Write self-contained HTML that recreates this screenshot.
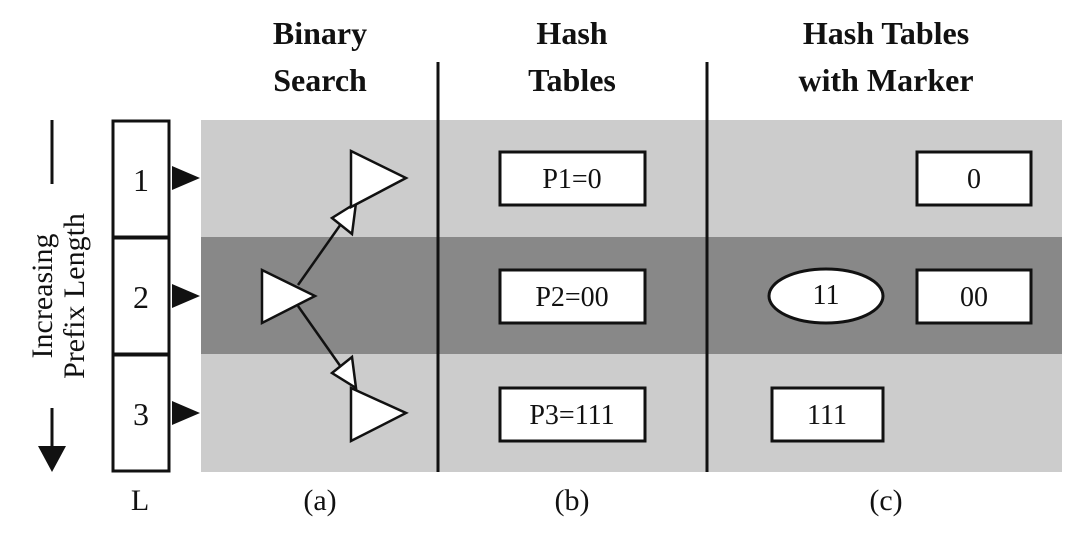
<!DOCTYPE html>
<html><head><style>body{margin:0;background:#fff}</style></head><body>
<svg width="1080" height="532" viewBox="0 0 1080 532" xmlns="http://www.w3.org/2000/svg" font-family="Liberation Serif, serif">
<rect x="201" y="120" width="861" height="352" fill="#cccccc"/>
<rect x="201" y="237" width="861" height="117" fill="#888888"/>
<line x1="438" y1="62" x2="438" y2="472" stroke="#111" stroke-width="3"/>
<line x1="707" y1="62" x2="707" y2="472" stroke="#111" stroke-width="3"/>
<g font-weight="bold" font-size="32" text-anchor="middle" fill="#111">
<text x="320" y="44">Binary</text><text x="320" y="91">Search</text>
<text x="572" y="44">Hash</text><text x="572" y="91">Tables</text>
<text x="886" y="44">Hash Tables</text><text x="886" y="91">with Marker</text>
</g>
<g font-size="30" text-anchor="middle" fill="#111">
<text x="140" y="510">L</text><text x="320" y="510">(a)</text><text x="572" y="510">(b)</text><text x="886" y="510">(c)</text>
</g>
<g fill="#fff" stroke="#111" stroke-width="3">
<rect x="113" y="121" width="56" height="116"/>
<rect x="113" y="238" width="56" height="116"/>
<rect x="113" y="355" width="56" height="116"/>
</g>
<g font-size="32" text-anchor="middle" fill="#111">
<text x="141" y="191">1</text><text x="141" y="308">2</text><text x="141" y="425">3</text>
</g>
<g fill="#111">
<polygon points="172,166 200,178 172,190"/>
<polygon points="172,284 200,296 172,308"/>
<polygon points="172,401 200,413 172,425"/>
</g>
<line x1="52" y1="120" x2="52" y2="184" stroke="#111" stroke-width="3"/>
<line x1="52" y1="408" x2="52" y2="450" stroke="#111" stroke-width="3"/>
<polygon points="38,446 66,446 52,472" fill="#111"/>
<g font-size="30" text-anchor="middle" fill="#111" transform="translate(52,296) rotate(-90)">
<text x="0" y="0">Increasing</text><text x="0" y="32">Prefix Length</text>
</g>
<g stroke="#111" stroke-width="2.5" fill="#fff">
<line x1="298" y1="285" x2="348" y2="214"/>
<line x1="298" y1="306" x2="348" y2="377"/>
<polygon points="356,203 332,218 352,234"/>
<polygon points="356,388 332,373 352,357"/>
<polygon points="351,151 406,178 351,207"/>
<polygon points="262,270 315,296 262,323"/>
<polygon points="351,388 406,413 351,441"/>
</g>
<g fill="#fff" stroke="#111" stroke-width="3">
<rect x="500" y="152" width="145" height="53"/>
<rect x="500" y="270" width="145" height="53"/>
<rect x="500" y="388" width="145" height="53"/>
<rect x="917" y="152" width="114" height="53"/>
<rect x="917" y="270" width="114" height="53"/>
<rect x="772" y="388" width="111" height="53"/>
<ellipse cx="826" cy="296" rx="57" ry="27"/>
</g>
<g font-size="28" text-anchor="middle" fill="#111">
<text x="572" y="188">P1=0</text><text x="572" y="306">P2=00</text><text x="572" y="424">P3=111</text>
<text x="974" y="188">0</text><text x="974" y="306">00</text><text x="827" y="424">111</text><text x="826" y="304">11</text>
</g>
</svg>
</body></html>
